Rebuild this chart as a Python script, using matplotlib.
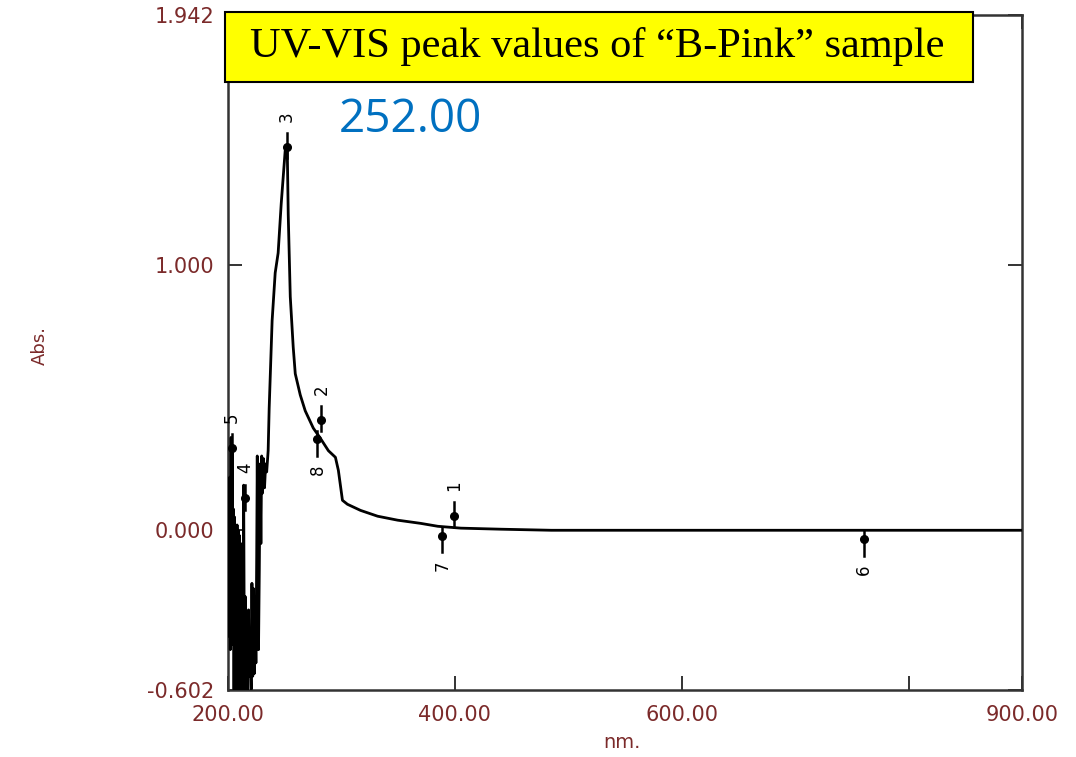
import matplotlib
matplotlib.use("Agg")
import matplotlib.pyplot as plt
from matplotlib.patches import Rectangle
from matplotlib.transforms import offset_copy

# ---------------- data ----------------
wavelength = [200.3, 200.9, 201.5, 202.0, 202.7, 203.2, 203.7, 204.2, 204.8, 205.3,
              205.8, 206.4, 206.9, 207.4, 208.0, 208.5, 209.0, 209.6, 210.1, 210.6,
              211.2, 211.7, 212.4, 213.1, 213.8, 214.5, 215.2, 215.9, 216.6, 217.3,
              218.1, 218.8, 219.5, 220.4, 221.1, 221.8, 222.5, 223.2, 223.9, 224.6,
              225.3, 225.8, 226.4, 226.9, 227.6, 228.3, 229.0, 229.7, 230.4, 231.3,
              232.2, 233.2, 234.1, 235.4, 236.3, 238.9, 241.6, 244.2, 246.9, 250.4,
              252.2, 253.1, 254.9, 257.5, 259.3, 263.7, 268.1, 275.2, 281.4, 288.5,
              294.7, 297.3, 300.9, 305.3, 316.8, 331.9, 349.6, 369.9, 385.0, 405.3,
              440.7, 485.0, 600.0, 750.0, 900.0]
absorbance = [0.05, -0.40, 0.20, -0.45, 0.35, -0.43, 0.31, -0.30, 0.08, -0.60,
              0.05, -0.60, 0.00, -0.60, 0.02, -0.60, 0.00, -0.60, -0.02, -0.60,
              -0.05, -0.60, -0.10, -0.60, 0.17, -0.60, -0.25, -0.60, -0.35, -0.60,
              -0.30, -0.55, -0.40, -0.60, -0.20, -0.55, -0.22, -0.54, -0.25, -0.50,
              -0.10, 0.28, -0.20, -0.45, -0.15, 0.25, -0.05, 0.28, 0.14, 0.27,
              0.16, 0.25, 0.22, 0.30, 0.46, 0.79, 0.97, 1.045, 1.23, 1.43,
              1.45, 1.19, 0.88, 0.69, 0.59, 0.51, 0.45, 0.385, 0.347, 0.30,
              0.275, 0.226, 0.113, 0.098, 0.075, 0.053, 0.038, 0.026, 0.015, 0.008,
              0.004, 0.0, 0.0, 0.0, 0.0]

peak_labels = ["1", "2", "3", "4", "5", "6", "7", "8"]
peak_wl = [399.0, 282.3, 252.0, 215.0, 203.5, 761.0, 389.0, 278.8]
peak_abs = [0.053, 0.415, 1.445, 0.12, 0.31, -0.034, -0.02, 0.343]
peak_kind = ["max", "max", "max", "max", "max", "min", "min", "min"]

x_ticks = [200, 400, 600, 800, 900]
x_ticklabels = ["200.00", "400.00", "600.00", "", "900.00"]
y_ticks = [-0.602, 0.0, 1.0, 1.942]
y_ticklabels = ["-0.602", "0.000", "1.000", "1.942"]

title_text = "UV-VIS peak values of \u201cB-Pink\u201d sample"
peak_value_text = "252.00"

# ---------------- figure ----------------
W, H = 1076, 757
fig = plt.figure(figsize=(W / 100, H / 100), dpi=100)
ax = fig.add_axes([228 / W, 1 - 690 / H, 794 / W, 675 / H])

ax.plot(wavelength, absorbance, color="black", lw=2.0, zorder=3)
ax.set_xlim(200, 900)
ax.set_ylim(-0.602, 1.942)

label_color = "#7b2a2a"
ax.set_xticks(x_ticks)
ax.set_xticklabels(x_ticklabels)
ax.set_yticks(y_ticks)
ax.set_yticklabels(y_ticklabels)
ax.tick_params(direction="in", length=10, width=1.4, color="#333333",
               top=True, right=True, labelcolor=label_color, labelsize=15)
ax.tick_params(axis="x", pad=11)
ax.tick_params(axis="y", pad=10)
for lab in ax.get_xticklabels() + ax.get_yticklabels():
    lab.set_family("DejaVu Sans")
for sp in ax.spines.values():
    sp.set_linewidth(1.8)
    sp.set_color("#333333")

fig.text(622 / W, 1 - 742 / H, "nm.", color=label_color, fontsize=14,
         ha="center", va="center")
fig.text(40 / W, 1 - 345 / H, "Abs.", color=label_color, fontsize=13,
         ha="center", va="center", rotation=90)

# peak markers
inv = ax.transData.inverted()
for lab, wl, a, kind in zip(peak_labels, peak_wl, peak_abs, peak_kind):
    ax.plot([wl], [a], "o", color="black", ms=5.5, zorder=4)
    if kind == "max":
        y0, y1, ty = 10, -8, 22
    else:
        y0, y1, ty = 6, -12, -22
    t0 = offset_copy(ax.transData, fig=fig, x=0, y=y0, units="points")
    t1 = offset_copy(ax.transData, fig=fig, x=0, y=y1, units="points")
    d0 = inv.transform(t0.transform((wl, a)))
    d1 = inv.transform(t1.transform((wl, a)))
    ax.plot([d0[0], d1[0]], [d0[1], d1[1]], color="black", lw=1.8, zorder=4)
    tt = offset_copy(ax.transData, fig=fig, x=0, y=ty, units="points")
    ax.text(wl, a, lab, transform=tt, rotation=90, ha="center", va="center",
            fontsize=12, color="black", zorder=5)

# title box
rect = Rectangle((225 / W, 1 - 82 / H), (973 - 225) / W, (82 - 12) / H,
                 transform=fig.transFigure, facecolor="#ffff00",
                 edgecolor="black", lw=1.5, zorder=10)
fig.patches.append(rect)
fig.text(597 / W, 1 - 47 / H, title_text, family="Liberation Serif",
         fontsize=30.5, ha="center", va="center", color="black", zorder=11)

fig.text(410 / W, 1 - 120 / H, peak_value_text, family="Open Sans",
         fontsize=33, ha="center", va="center", color="#0070C0", zorder=11)

fig.savefig("out.png", dpi=100, facecolor="white")
